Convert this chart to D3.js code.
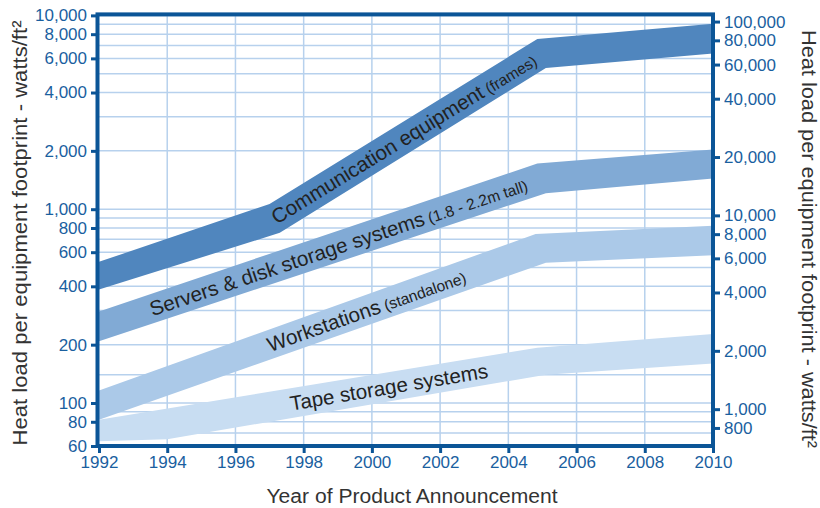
<!DOCTYPE html>
<html>
<head>
<meta charset="utf-8">
<script src="https://cdn.jsdelivr.net/npm/d3@7"></script>
<style>
  body { margin: 0; background: #fff; }
  text { font-family: "Liberation Sans", Arial, sans-serif; }
</style>
</head>
<body>
<script>
// year ticks and left axis ticks (watts/ft2), right axis ticks (watts/m2)
var yearTicks = [1992, 1994, 1996, 1998, 2000, 2002, 2004, 2006, 2008, 2010];
var leftTicks = [60, 80, 100, 200, 400, 600, 800, 1000, 2000, 4000, 6000, 8000, 10000];
var rightTicks = [800, 1000, 2000, 4000, 6000, 8000, 10000, 20000, 40000, 60000, 80000, 100000];
var gridValues = [70, 80, 90, 100, 140, 200, 300, 400, 500, 600, 700, 800, 900, 1000,
                  2000, 3000, 4000, 5000, 6000, 7000, 8000, 9000, 10000];
var ft2ToM2 = 10.76;

// band edges: years and values (watts/ft2)
var tapeUpperYears = [1992, 2004.85, 2010];
var tapeUpper = [82, 193, 227];
var tapeLowerYears = [1992, 1994, 2005.1, 2010];
var tapeLower = [63.5, 65, 140, 160];

var workUpperYears = [1992, 2004.8, 2010];
var workUpper = [116, 745, 822];
var workLowerYears = [1992, 2005.1, 2010];
var workLower = [82, 530, 578];

var servUpperYears = [1992, 2004.85, 2010];
var servUpper = [297, 1720, 2030];
var servLowerYears = [1992, 2005.1, 2010];
var servLower = [208, 1210, 1440];

var commUpperYears = [1992, 1997.0, 2004.85, 2010];
var commUpper = [535, 1065, 7550, 9050];
var commLowerYears = [1992, 1997.3, 2005.1, 2010];
var commLower = [385, 755, 5350, 6350];

var W = 820, H = 508;
var svg = d3.select("body").append("svg").attr("width", W).attr("height", H);

var x = d3.scaleLinear().domain([1992, 2010]).range([99, 713]);
var y = d3.scaleLog().domain([60, 10000]).range([446, 15.4]);
var y2 = d3.scaleLog().domain([60 * ft2ToM2, 10000 * ft2ToM2]).range([446, 15.4]);

var axisBlue = "#0b5597";
var labelBlue = "#1a5f9f";
var gridBlue = "#b7d1ed";

// grid
svg.append("g").selectAll("line").data(gridValues).enter().append("line")
    .attr("x1", x(1992)).attr("x2", x(2010))
    .attr("y1", function (d) { return y(d); }).attr("y2", function (d) { return y(d); })
    .attr("stroke", gridBlue).attr("stroke-width", 1.5);
svg.append("g").selectAll("line").data(yearTicks.slice(1, -1)).enter().append("line")
    .attr("x1", function (d) { return x(d); }).attr("x2", function (d) { return x(d); })
    .attr("y1", y(60)).attr("y2", y(10000))
    .attr("stroke", gridBlue).attr("stroke-width", 1.5);

// bands
var bands = [
    { uy: tapeUpperYears, u: tapeUpper, ly: tapeLowerYears, l: tapeLower, color: "#c8ddf2" },
    { uy: workUpperYears, u: workUpper, ly: workLowerYears, l: workLower, color: "#abc9e8" },
    { uy: servUpperYears, u: servUpper, ly: servLowerYears, l: servLower, color: "#81aad5" },
    { uy: commUpperYears, u: commUpper, ly: commLowerYears, l: commLower, color: "#5086be" }
];

function edgePoints(years, vals) {
    return years.map(function (yr, i) { return [x(yr), y(vals[i])]; });
}

var line = d3.line();
bands.forEach(function (b) {
    var pts = edgePoints(b.uy, b.u).concat(edgePoints(b.ly, b.l).reverse());
    svg.append("path").attr("d", line(pts) + "Z").attr("fill", b.color);
});

// pixel y of band centre at a year
function interp(years, vals, yr) {
    var pts = edgePoints(years, vals), px = x(yr);
    for (var i = 0; i < pts.length - 1; i++) {
        if (px <= pts[i + 1][0]) {
            var t = (px - pts[i][0]) / (pts[i + 1][0] - pts[i][0]);
            return pts[i][1] + t * (pts[i + 1][1] - pts[i][1]);
        }
    }
    return pts[pts.length - 1][1];
}
function centre(b, yr) {
    return (interp(b.uy, b.u, yr) + interp(b.ly, b.l, yr)) / 2;
}

// band labels
var labels = [
    { band: 3, main: "Communication equipment", small: "(frames)", from: 1997.1, to: 2004.8 },
    { band: 2, main: "Servers & disk storage systems", small: "(1.8 - 2.2m tall)", from: 1993.5, to: 2004.5 },
    { band: 1, main: "Workstations", small: "(standalone)", from: 1996.95, to: 2003.0 },
    { band: 0, main: "Tape storage systems", small: "", from: 1997.6, to: 2003.3 }
];

labels.forEach(function (lb) {
    var b = bands[lb.band];
    var x0 = x(lb.from), y0 = centre(b, lb.from);
    var x1 = x(lb.to), y1 = centre(b, lb.to);
    var ang = Math.atan2(y1 - y0, x1 - x0) * 180 / Math.PI;
    var t = svg.append("text")
        .attr("transform", "translate(" + x0 + "," + y0 + ") rotate(" + ang + ")")
        .attr("dy", "0.36em")
        .attr("fill", "#222")
        .attr("font-size", 20.6);
    t.append("tspan").text(lb.main);
    if (lb.small) t.append("tspan").attr("font-size", 15.5).text(" " + lb.small);
});

// frame
svg.append("rect")
    .attr("x", x(1992) - 1.5).attr("y", y(10000) - 1)
    .attr("width", x(2010) - x(1992) + 1.5).attr("height", y(60) - y(10000) + 1)
    .attr("fill", "none").attr("stroke", axisBlue).attr("stroke-width", 4);

// axes
var fmt = d3.format(",");
var left = svg.append("g").attr("transform", "translate(" + (x(1992) - 2) + ",0)")
    .call(d3.axisLeft(y).tickValues(leftTicks).tickFormat(fmt).tickSize(6).tickPadding(4));
var right = svg.append("g").attr("transform", "translate(" + (x(2010) + 1) + ",0)")
    .call(d3.axisRight(y2).tickValues(rightTicks).tickFormat(fmt).tickSize(6).tickPadding(4));
var bottom = svg.append("g").attr("transform", "translate(0," + (y(60) + 1) + ")")
    .call(d3.axisBottom(x).tickValues(yearTicks).tickFormat(d3.format("d")).tickSize(6).tickPadding(3));

[left, right, bottom].forEach(function (g) {
    g.select(".domain").remove();
    g.selectAll(".tick line").attr("stroke", axisBlue).attr("stroke-width", 3);
    g.selectAll(".tick text").attr("fill", labelBlue).attr("font-size", 17)
        .attr("font-family", "Liberation Sans, Arial, sans-serif");
});

// titles
var titleFont = "Lato, Open Sans, sans-serif";
svg.append("text")
    .attr("transform", "translate(27,233) rotate(-90)")
    .attr("text-anchor", "middle").attr("font-family", titleFont)
    .attr("font-size", 20).attr("fill", "#333")
    .attr("textLength", 425).attr("lengthAdjust", "spacingAndGlyphs")
    .text("Heat load per equipment footprint - watts/ft\u00b2");
svg.append("text")
    .attr("transform", "translate(802,239) rotate(90)")
    .attr("text-anchor", "middle").attr("font-family", titleFont)
    .attr("font-size", 20).attr("fill", "#333")
    .attr("textLength", 418).attr("lengthAdjust", "spacingAndGlyphs")
    .text("Heat load per equipment footprint - watts/ft\u00b2");
svg.append("text")
    .attr("x", 412).attr("y", 503)
    .attr("text-anchor", "middle").attr("font-family", titleFont)
    .attr("font-size", 20).attr("fill", "#333")
    .attr("textLength", 291).attr("lengthAdjust", "spacingAndGlyphs")
    .text("Year of Product Announcement");
</script>
</body>
</html>
